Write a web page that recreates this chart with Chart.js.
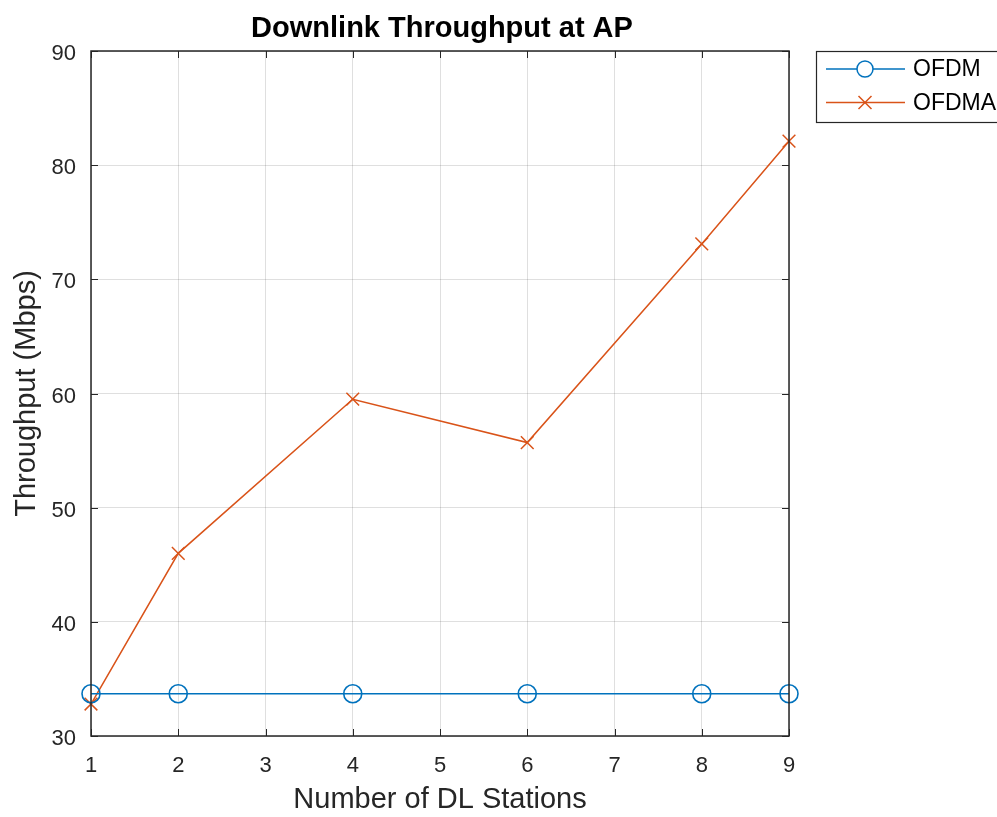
<!DOCTYPE html>
<html>
<head>
<meta charset="utf-8">
<title>Downlink Throughput at AP</title>
<script src="https://cdn.jsdelivr.net/npm/chart.js@4.4.1/dist/chart.umd.min.js"></script>
<style>
  html, body { margin: 0; padding: 0; background: #ffffff; }
  #wrap { width: 997px; height: 817px; }
</style>
</head>
<body>
<div id="wrap"><canvas id="grafico"></canvas></div>
<script>
// Datos
const estaciones = [1, 2, 4, 6, 8, 9];
const ofdm = [33.7, 33.7, 33.7, 33.7, 33.7, 33.7];
const ofdma = [32.8, 46.0, 59.5, 55.7, 73.1, 82.1];
const nombres = ['OFDM', 'OFDMA'];
const ticksX = [1, 2, 3, 4, 5, 6, 7, 8, 9];
const ticksY = [30, 40, 50, 60, 70, 80, 90];
const titulo = 'Downlink Throughput at AP';

const azul = '#0072BD';
const naranja = '#D95319';
const gris = '#262626';
const fuente = '"Liberation Sans", Arial, Helvetica, sans-serif';

const puntos = valores => estaciones.map((e, i) => ({ x: e, y: valores[i] }));

// Titulo centrado sobre el area del grafico
const tituloCentrado = {
    id: 'tituloCentrado',
    afterDraw(chart) {
        const { ctx, chartArea: a } = chart;
        ctx.save();
        ctx.fillStyle = '#000000';
        ctx.font = 'bold 29px ' + fuente;
        ctx.textAlign = 'center';
        ctx.textBaseline = 'alphabetic';
        ctx.fillText(titulo, (a.left + a.right) / 2 + 2, 37);
        ctx.restore();
    }
};

// Caja del eje con marcas hacia adentro (estilo MATLAB)
const cajaEjes = {
    id: 'cajaEjes',
    afterDatasetsDraw(chart) {
        const { ctx, chartArea: a, scales } = chart;
        const largo = 7;
        ctx.save();
        ctx.strokeStyle = gris;
        ctx.lineWidth = 1;
        ctx.beginPath();
        ticksX.forEach(v => {
            const px = Math.round(scales.x.getPixelForValue(v)) + 0.5;
            ctx.moveTo(px, a.bottom); ctx.lineTo(px, a.bottom - largo);
            ctx.moveTo(px, a.top); ctx.lineTo(px, a.top + largo);
        });
        ticksY.forEach(v => {
            const py = Math.round(scales.y.getPixelForValue(v)) + 0.5;
            ctx.moveTo(a.left, py); ctx.lineTo(a.left + largo, py);
            ctx.moveTo(a.right, py); ctx.lineTo(a.right - largo, py);
        });
        ctx.stroke();
        ctx.lineWidth = 1.5;
        ctx.strokeRect(a.left, a.top, a.right - a.left, a.bottom - a.top);
        ctx.restore();
    }
};

// Leyenda con linea y marcador, fuera del area (arriba a la derecha)
const leyenda = {
    id: 'leyenda',
    afterDraw(chart) {
        const { ctx } = chart;
        const x0 = 816, y0 = 51, alto = 71;
        ctx.save();
        ctx.fillStyle = '#ffffff';
        ctx.fillRect(x0, y0, 200, alto);
        ctx.strokeStyle = gris;
        ctx.lineWidth = 1.2;
        ctx.strokeRect(x0 + 0.5, y0 + 0.5, 200, alto);
        chart.data.datasets.forEach((ds, i) => {
            const y = y0 + 18 + i * 33.5;
            ctx.strokeStyle = ds.borderColor;
            ctx.lineWidth = 1.5;
            ctx.beginPath();
            ctx.moveTo(826, y); ctx.lineTo(905, y);
            ctx.stroke();
            const cx = 865;
            ctx.beginPath();
            if (ds.pointStyle === 'circle') {
                ctx.fillStyle = '#ffffff';
                ctx.arc(cx, y, 8, 0, Math.PI * 2);
                ctx.fill();
            } else {
                ctx.moveTo(cx - 6.5, y - 6.5); ctx.lineTo(cx + 6.5, y + 6.5);
                ctx.moveTo(cx - 6.5, y + 6.5); ctx.lineTo(cx + 6.5, y - 6.5);
            }
            ctx.stroke();
            ctx.fillStyle = '#000000';
            ctx.font = '23px ' + fuente;
            ctx.textBaseline = 'middle';
            ctx.textAlign = 'left';
            ctx.fillText(ds.label, 913, y + 1);
        });
        ctx.restore();
    }
};

const ctx = document.getElementById('grafico').getContext('2d');
new Chart(ctx, {
    type: 'line',
    data: {
        datasets: [{
            label: nombres[0],
            data: puntos(ofdm),
            borderColor: azul,
            borderWidth: 1.5,
            pointStyle: 'circle',
            pointRadius: 9,
            pointBorderWidth: 1.6,
            pointBackgroundColor: 'rgba(0,0,0,0)',
            pointBorderColor: azul,
            fill: false,
            clip: false
        }, {
            label: nombres[1],
            data: puntos(ofdma),
            borderColor: naranja,
            borderWidth: 1.5,
            pointStyle: 'crossRot',
            pointRadius: 9,
            pointBorderWidth: 1.5,
            pointBorderColor: naranja,
            fill: false,
            clip: false
        }]
    },
    options: {
        responsive: true,
        maintainAspectRatio: false,
        animation: false,
        events: [],
        layout: { padding: { left: 0, right: 208, top: 51, bottom: 0 } },
        plugins: {
            legend: { display: false },
            tooltip: { enabled: false },
            title: { display: false }
        },
        scales: {
            x: {
                type: 'linear',
                min: 1,
                max: 9,
                afterBuildTicks: s => { s.ticks = ticksX.map(v => ({ value: v })); },
                afterFit: s => { s.height = 81; },
                ticks: { color: gris, font: { family: fuente, size: 22 }, padding: 17, maxRotation: 0 },
                grid: { color: 'rgba(38,38,38,0.15)', drawTicks: false },
                border: { display: false },
                title: {
                    display: true,
                    text: 'Number of DL Stations',
                    color: gris,
                    font: { family: fuente, size: 29 },
                    padding: { top: 0, bottom: 0 }
                }
            },
            y: {
                type: 'linear',
                min: 30,
                max: 90,
                afterBuildTicks: s => { s.ticks = ticksY.map(v => ({ value: v })); },
                afterFit: s => { s.width = 91; },
                ticks: { color: gris, font: { family: fuente, size: 22 }, padding: 15, labelOffset: 3 },
                grid: { color: 'rgba(38,38,38,0.15)', drawTicks: false },
                border: { display: false },
                title: {
                    display: true,
                    text: 'Throughput (Mbps)',
                    color: gris,
                    font: { family: fuente, size: 29 },
                    padding: { top: 10, bottom: 0 }
                }
            }
        }
    },
    plugins: [cajaEjes, leyenda, tituloCentrado]
});
</script>
</body>
</html>
